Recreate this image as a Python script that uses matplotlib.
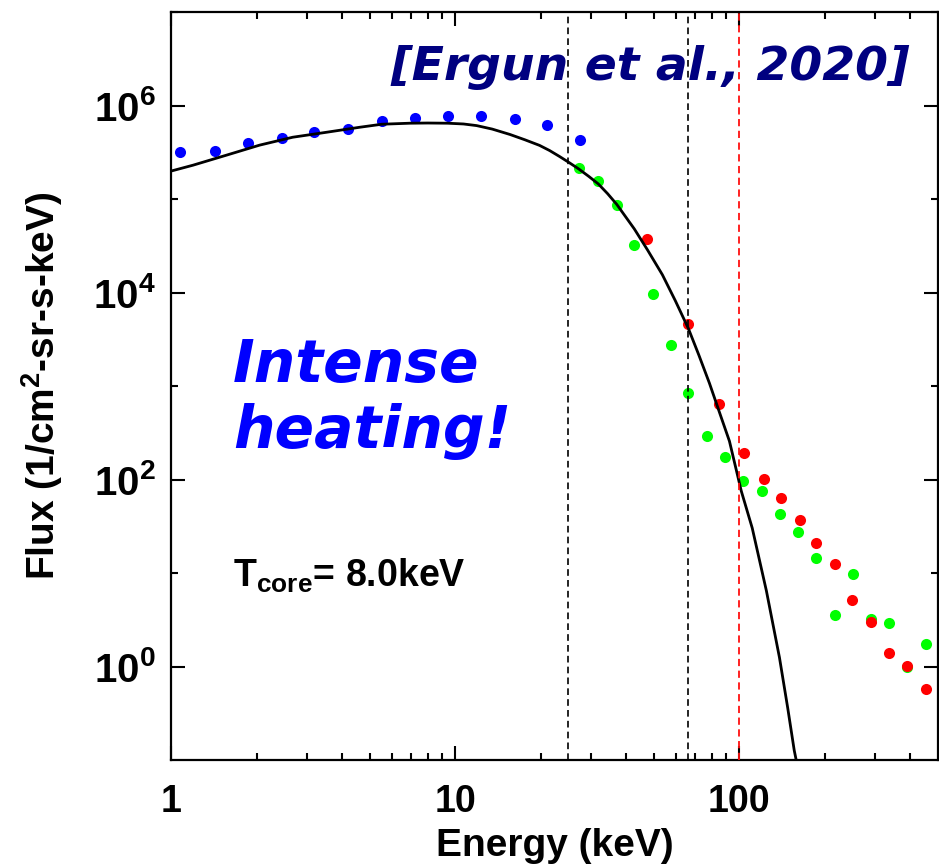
import numpy as np
import matplotlib
matplotlib.use('Agg')
import matplotlib.pyplot as plt
from matplotlib.ticker import FixedLocator, FixedFormatter, NullFormatter

# Data
E_blue = [1.08, 1.43, 1.87, 2.45, 3.18, 4.19, 5.52, 7.2, 9.4, 12.3, 16.2, 21.1, 27.6]
F_blue = [3.2e5, 3.25e5, 3.95e5, 4.5e5, 5.2e5, 5.6e5, 6.8e5, 7.3e5, 7.7e5, 7.7e5, 7.1e5, 6.15e5, 4.3e5]

E_green = [27.2, 31.9, 37.0, 42.7, 49.5, 57.7, 66.2, 77.2, 89.3, 103.3,
           120.5, 139.4, 161, 186.6, 217, 252, 291, 337, 390, 454]
F_green = [2.14e5, 1.56e5, 8.6e4, 3.23e4, 9.7e3, 2.78e3, 834, 290, 173, 96,
           75, 42.8, 27.5, 14.5, 3.58, 9.8, 3.25, 2.94, 0.98, 1.76]

E_red = [47.5, 66.2, 85.1, 104, 122, 140.5, 163.6, 186.6, 217, 250, 291, 337, 390, 454]
F_red = [3.75e4, 4.65e3, 637, 191, 101, 63.4, 36.9, 21.0, 12.5, 5.18, 3.02, 1.38, 1.02, 0.58]

# fitted core distribution (black curve)
E_fit = [1.0, 1.195, 1.57, 2.05, 2.68, 3.53, 4.62, 5.52, 6.92, 8.0, 9.41, 10.7, 11.9, 13.5,
         15.6, 17.6, 19.8, 21.5, 23.3, 25.2, 27.2, 29.5, 31.9, 34.4, 37.0, 42.7, 47.5, 53.6,
         59.5, 66.2, 72.0, 78.5, 85.0, 92.3, 101.6, 111, 124.5, 138.4, 148, 156, 158.5]
F_fit = [1.99e5, 2.30e5, 2.95e5, 3.77e5, 4.58e5, 5.18e5, 5.86e5, 6.31e5, 6.47e5, 6.5e5,
         6.47e5, 6.35e5, 6.1e5, 5.6e5, 4.9e5, 4.3e5, 3.75e5, 3.3e5, 2.85e5, 2.45e5,
         2.1e5, 1.75e5, 1.45e5, 1.14e5, 8.8e4, 4.79e4, 2.86e4, 1.55e4, 8.2e3, 4.11e3,
         2.15e3, 1.07e3, 530, 257, 75.2, 30.3, 6.46, 1.25, 0.36, 0.127, 0.1]

E_black_lines = [25, 66]
E_red_line = 100

x_major = [1, 10, 100]
x_major_labels = ['1', '10', '100']
y_major = [1e0, 1e2, 1e4, 1e6]
y_major_labels = ['10$^{0}$', '10$^{2}$', '10$^{4}$', '10$^{6}$']
y_minor = [1e1, 1e3, 1e5, 1e7]

plt.rcParams['font.family'] = ['Liberation Sans', 'DejaVu Sans']
plt.rcParams['font.weight'] = 'bold'
plt.rcParams['mathtext.fontset'] = 'custom'
plt.rcParams['mathtext.rm'] = 'Liberation Sans:bold'
plt.rcParams['mathtext.bf'] = 'Liberation Sans:bold'
plt.rcParams['mathtext.it'] = 'Liberation Sans:bold'

fig = plt.figure(figsize=(9.39, 8.66), dpi=100)
ax = fig.add_axes([0.1821, 0.1224, 0.8168, 0.8637])

ms = 8
ax.plot(E_blue, F_blue, 'o', color='#0000ff', ms=ms, mec='none', zorder=2)
ax.plot(E_green, F_green, 'o', color='#00ff00', ms=ms, mec='none', zorder=2)
ax.plot(E_red, F_red, 'o', color='#ff0000', ms=ms, mec='none', zorder=3)
ax.plot(E_fit, F_fit, '-', color='black', lw=2.0, zorder=4)

for e in E_black_lines:
    ax.axvline(e, color='black', lw=1.2, dashes=(4, 2.5), zorder=5)
ax.axvline(E_red_line, color='#ff1010', lw=1.3, dashes=(4, 2.5), zorder=5)

ax.set_xscale('log')
ax.set_yscale('log')
ax.set_xlim(1, 500)
ax.set_ylim(0.1, 1e7)

ax.xaxis.set_major_locator(FixedLocator(x_major))
ax.xaxis.set_major_formatter(FixedFormatter(x_major_labels))
x_minor = [m * d for d in [1, 10, 100] for m in range(2, 10) if m * d < 500]
ax.xaxis.set_minor_locator(FixedLocator(x_minor))
ax.xaxis.set_minor_formatter(NullFormatter())

ax.yaxis.set_major_locator(FixedLocator(y_major))
ax.yaxis.set_major_formatter(FixedFormatter(y_major_labels))
ax.yaxis.set_minor_locator(FixedLocator(y_minor))
ax.yaxis.set_minor_formatter(NullFormatter())

ax.tick_params(which='both', direction='in', top=True, right=True, width=1.5)
ax.tick_params(which='major', length=10)
ax.tick_params(which='minor', length=5)
ax.tick_params(axis='x', which='major', labelsize=27, pad=17)
ax.tick_params(axis='y', which='major', labelsize=29, pad=11)
for sp in ax.spines.values():
    sp.set_linewidth(1.6)

ax.set_xlabel('Energy (keV)', fontsize=28, fontweight='bold', labelpad=6)
ax.set_ylabel('Flux (1/cm$^2$-sr-s-keV)', fontsize=28, fontweight='bold', labelpad=20)

ax.text(0.9635, 0.909, '[Ergun et al., 2020]', transform=ax.transAxes, ha='right', va='baseline',
        fontsize=34, fontweight='bold', fontstyle='italic', family='DejaVu Sans', color='#000080')
ax.text(0.081, 0.5053, 'Intense', transform=ax.transAxes, ha='left', va='baseline',
        fontsize=42, fontweight='bold', fontstyle='italic', family='DejaVu Sans', color='#0000ff')
ax.text(0.081, 0.4171, 'heating!', transform=ax.transAxes, ha='left', va='baseline',
        fontsize=42, fontweight='bold', fontstyle='italic', family='DejaVu Sans', color='#0000ff')
ax.text(0.081, 0.2313, 'T$_{\\mathrm{core}}$= 8.0keV', transform=ax.transAxes, ha='left', va='baseline',
        fontsize=27, fontweight='bold', color='black')

fig.savefig('out.png', dpi=100)
